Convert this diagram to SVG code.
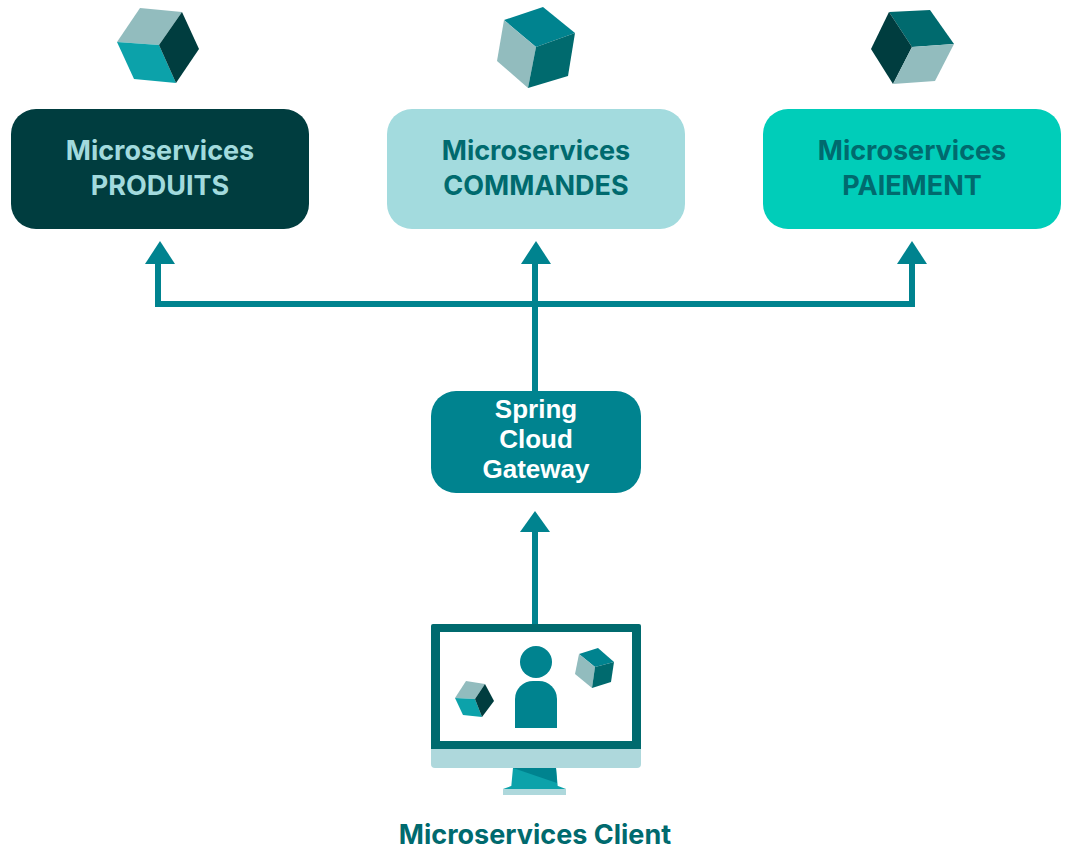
<svg xmlns="http://www.w3.org/2000/svg" width="1065" height="867" viewBox="0 0 1065 867">
<style>
.t{font-family:"Inter","Noto Sans","Liberation Sans",sans-serif;font-weight:700;font-size:27px;text-anchor:middle}
.g{font-family:"Liberation Sans",Arial,sans-serif;font-weight:700;font-size:26px;fill:#fff;text-anchor:middle}
.l{fill:none;stroke:#00838f;stroke-width:6}
.h{fill:#00838f}
.c1{fill:#92bcbe}.c2{fill:#0ca2aa}.c3{fill:#003d3f}.c4{fill:#00838f}.c5{fill:#006a6e}
</style>
<rect width="1065" height="867" fill="#fff"/>
<g id="connectors">
<path class="l" d="M158 262V304H912V262"/>
<path class="l" d="M535 262V391"/>
<path class="l" d="M535 530V624"/>
<path class="h" d="M160 241L175 264H145Z"/>
<path class="h" d="M536 241L551 264H521Z"/>
<path class="h" d="M912 241L927 264H897Z"/>
<path class="h" d="M535 511L550 532H520Z"/>
</g>
<g id="cube-produits">
<path class="c1" d="M140 8L182 12L159 45L117 42Z"/>
<path class="c2" d="M117 42L159 45L176 83L134 79Z"/>
<path class="c3" d="M182 12L199 49L176 83L159 45Z"/>
</g>
<g id="cube-commandes">
<path class="c4" d="M543 7L575 33L536 47L504 20Z"/>
<path class="c1" d="M504 20L536 47L528 88L497 61Z"/>
<path class="c5" d="M575 33L568 76L528 88L536 47Z"/>
</g>
<g id="cube-paiement">
<path class="c5" d="M889 12L930 10L954 44L912 47Z"/>
<path class="c3" d="M889 12L912 47L893 84L871 49Z"/>
<path class="c1" d="M912 47L954 44L935 81L893 84Z"/>
</g>
<g id="node-produits">
<rect x="11" y="109" width="298" height="120" rx="25" fill="#003d3f"/>
<text class="t" x="160" y="160" fill="#a2dadd">Microservices</text>
<text class="t" x="160" y="195" fill="#a2dadd">PRODUITS</text>
</g>
<g id="node-commandes">
<rect x="387" y="109" width="298" height="120" rx="25" fill="#a3dbde"/>
<text class="t" x="536" y="160" fill="#006a6e">Microservices</text>
<text class="t" x="536" y="195" fill="#006a6e">COMMANDES</text>
</g>
<g id="node-paiement">
<rect x="763" y="109" width="298" height="120" rx="25" fill="#00cdb9"/>
<text class="t" x="912" y="160" fill="#006a6e">Microservices</text>
<text class="t" x="912" y="195" fill="#006a6e">PAIEMENT</text>
</g>
<g id="node-gateway">
<rect x="431" y="391" width="210" height="102" rx="25" fill="#00838f"/>
<text class="g" x="536" y="418">Spring</text>
<text class="g" x="536" y="448">Cloud</text>
<text class="g" x="536" y="478">Gateway</text>
</g>
<g id="node-client">
<path d="M431 749H641V764a4 4 0 0 1-4 4H435a4 4 0 0 1-4-4Z" fill="#aed8dc"/>
<path d="M433 624H639a2 2 0 0 1 2 2V749H431V626a2 2 0 0 1 2-2Z" fill="#006a6e"/>
<rect x="440" y="632" width="192" height="109" fill="#fff"/>
<circle cx="536" cy="662" r="16" fill="#00838f"/>
<path d="M515 728V699a18 18 0 0 1 18-18h6a18 18 0 0 1 18 18V728Z" fill="#00838f"/>
<path class="c1" d="M466 681L485 684L475 699L455 698Z"/>
<path class="c2" d="M455 698L475 699L482 717L463 715Z"/>
<path class="c3" d="M485 684L494 701L482 717L475 699Z"/>
<path class="c4" d="M598 648L614 662L595 667L579 654Z"/>
<path class="c1" d="M579 654L595 667L592 688L575 674Z"/>
<path class="c5" d="M614 662L611 682L592 688L595 667Z"/>
<path class="c2" d="M513 768H556L558 789H511Z"/>
<path class="c4" d="M513 768H556L557 783Z"/>
<path class="c2" d="M511 786L503 789H566L558 786Z"/>
<rect x="503" y="789" width="63" height="6" fill="#aed8dc"/>
<text class="t" x="535" y="844" fill="#006a6e">Microservices Client</text>
</g>
</svg>
